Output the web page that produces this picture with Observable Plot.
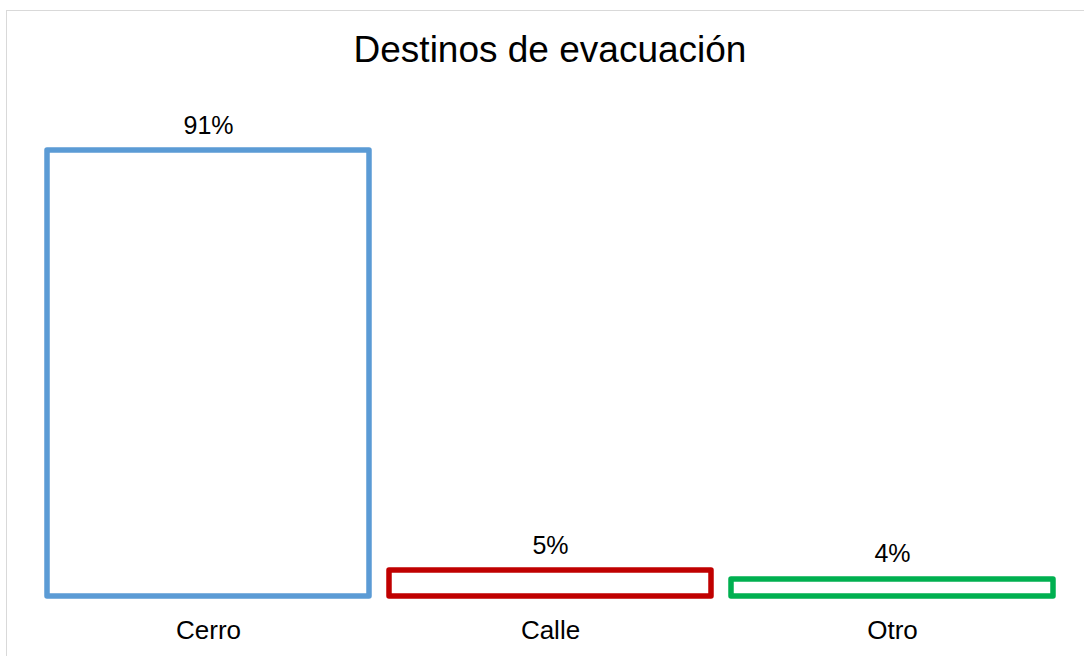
<!DOCTYPE html>
<html>
<head>
<meta charset="utf-8">
<script src="https://cdn.jsdelivr.net/npm/d3@7"></script>
<script src="https://cdn.jsdelivr.net/npm/@observablehq/plot@0.6"></script>
<style>
  html, body { margin: 0; padding: 0; overflow: hidden; background: #fff; width: 1084px; height: 656px; }
  body { position: relative; font-family: "Liberation Sans", Arial, sans-serif; }
  #frame { position: absolute; left: 6px; top: 10px; width: 1090px; height: 660px; border: 1px solid #d9d9d9; box-sizing: border-box; }
  #title { position: relative; box-sizing: border-box; height: 80px; width: 1084px; padding-top: 31px; padding-left: 16px; font-size: 37px; line-height: 37px; text-align: center; color: #000; }
  #chart { position: relative; }
  #chart svg { display: block; }
</style>
</head>
<body>
<div id="frame"></div>
<div id="title">Destinos de evacuación</div>
<div id="chart"></div>
<script>
const categories = ["Cerro", "Calle", "Otro"];
const values = [91.2, 5.3, 3.5];
const colors = ["#5b9bd5", "#c00000", "#00b050"];

const data = categories.map((c, i) => ({cat: c, value: values[i], color: colors[i], label: Math.round(values[i]) + "%"}));

const chart = Plot.plot({
  width: 1084,
  height: 576,
  marginLeft: 26,
  marginRight: 10,
  marginTop: 70,
  marginBottom: 60,
  style: {fontFamily: "'Liberation Sans', Arial, sans-serif", background: "transparent", color: "#000"},
  x: {domain: categories, padding: 0.0575, label: null},
  y: {domain: [0, 91.2], axis: null},
  marks: [
    Plot.barY(data, {x: "cat", y: "value", fill: "white", stroke: "color", strokeWidth: 5.5, strokeLinejoin: "round"}),
    Plot.text(data, {x: "cat", y: "value", text: "label", fontSize: 25, dy: -25, fill: "#000"}),
    Plot.axisX({tickSize: 0, tickPadding: 24, fontSize: 26, label: null, fill: "#000"})
  ]
});
document.getElementById("chart").appendChild(chart);
</script>
</body>
</html>
